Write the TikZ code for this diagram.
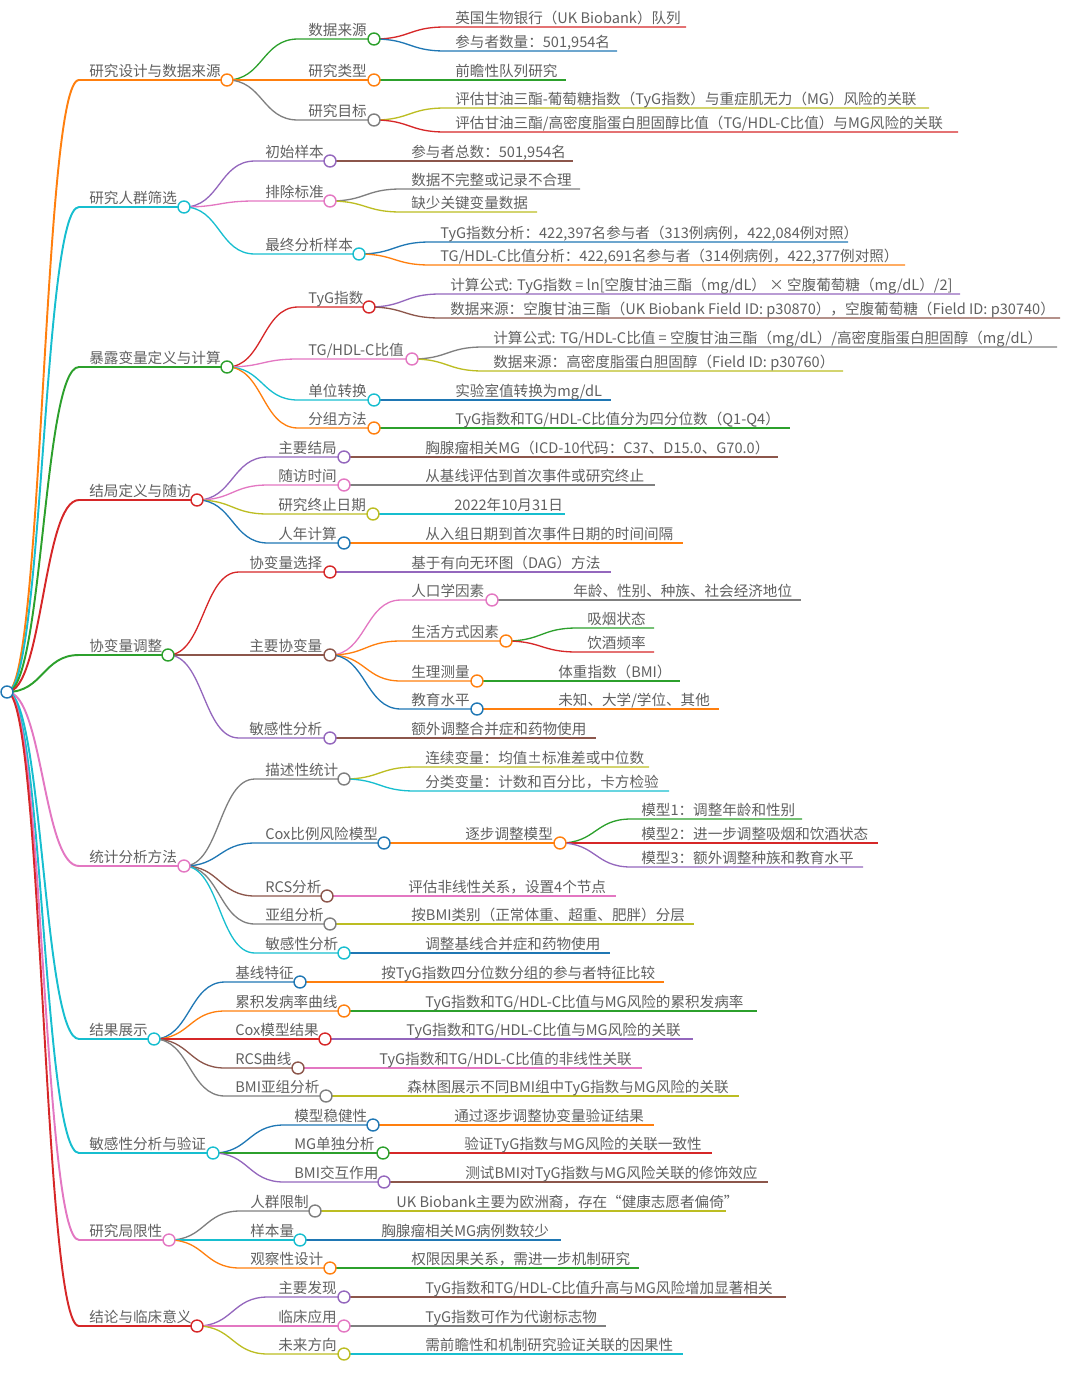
\documentclass[tikz,border=0pt]{standalone}
\usepackage{fontspec}
\setmainfont{Noto Sans CJK SC}
\usepackage{tikz}
\usetikzlibrary{calc}
\definecolor{mblue}{HTML}{1F77B4}
\definecolor{morange}{HTML}{FF7F0E}
\definecolor{mgreen}{HTML}{2CA02C}
\definecolor{mred}{HTML}{D62728}
\definecolor{mpurple}{HTML}{9467BD}
\definecolor{mbrown}{HTML}{8C564B}
\definecolor{mpink}{HTML}{E377C2}
\definecolor{mgray}{HTML}{7F7F7F}
\definecolor{molive}{HTML}{BCBD22}
\definecolor{mcyan}{HTML}{17BECF}
\definecolor{txt}{HTML}{606060}
\pgfdeclarelayer{bg}
\pgfsetlayers{bg,main}
\tikzset{
  lbl/.style={anchor=base west, inner sep=0pt, text=txt, font=\fontsize{8.3}{10}\selectfont},
  mmlink/.style={line width=0.75pt, to path={.. controls +(36,0) and +(-36,0) .. (\tikztotarget)}},
  lvlone/.style={line width=1.1pt},
  ring/.style={line width=0.8pt, fill=white}}
\newcommand{\mmnode}[7]{%
	\coordinate (#1-s) at (#4,#6);
	\coordinate (#1-e) at (#5,#6);
	\node[lbl] (#1) at ({#4+10},{#6-4}) {#7};
	\begin{pgfonlayer}{bg}
	\draw[mmlink, #3] (#2-e) to (#1-s) -- (#1-e);
	\end{pgfonlayer}}
\newcommand{\mmdot}[2]{\draw[#2, ring] (#1-e) circle [radius=0.12cm];}
\newcommand{\mmbranch}[7]{\mmnode{#1}{#2}{#3}{#4}{#5}{#6}{#7}\mmdot{#1}{#3}}

\begin{document}
\begin{tikzpicture}[x=0.02cm, y=-0.02cm]
\useasboundingbox (0,0) rectangle (1080,1376);
	\coordinate (root-e) at (7,692);

	\mmbranch{design}{root}{morange, lvlone}{79}{227}{80}{研究设计与数据来源}
	\mmbranch{source}{design}{mgreen}{298}{374}{39}{数据来源}
	\mmnode{ukb}{source}{mred}{445}{686}{27}{英国生物银行（UK Biobank）队列}
	\mmnode{count}{source}{mblue}{445}{617}{51}{参与者数量：501,954名}
	\mmbranch{type}{design}{morange}{298}{374}{80}{研究类型}
	\mmnode{cohort}{type}{mgreen}{445}{566}{80}{前瞻性队列研究}
	\mmbranch{aim}{design}{mgray}{298}{374}{120}{研究目标}
	\mmnode{aim1}{aim}{molive}{445}{929}{108}{评估甘油三酯-葡萄糖指数（TyG指数）与重症肌无力（MG）风险的关联}
	\mmnode{aim2}{aim}{mred}{445}{958}{132}{评估甘油三酯/高密度脂蛋白胆固醇比值（TG/HDL-C比值）与MG风险的关联}

	\mmbranch{pop}{root}{mcyan, lvlone}{79}{184}{207}{研究人群筛选}
	\mmbranch{init}{pop}{mpurple}{255}{330}{161}{初始样本}
	\mmnode{total}{init}{mbrown}{401}{573}{161}{参与者总数：501,954名}
	\mmbranch{excl}{pop}{mpink}{255}{330}{201}{排除标准}
	\mmnode{excl1}{excl}{mgray}{401}{580}{189}{数据不完整或记录不合理}
	\mmnode{excl2}{excl}{molive}{401}{537}{212}{缺少关键变量数据}
	\mmbranch{final}{pop}{mcyan}{255}{359}{254}{最终分析样本}
	\mmnode{final1}{final}{mblue}{430}{848}{242}{TyG指数分析：422,397名参与者（313例病例，422,084例对照）}
	\mmnode{final2}{final}{morange}{430}{905}{265}{TG/HDL-C比值分析：422,691名参与者（314例病例，422,377例对照）}

	\mmbranch{expo}{root}{mgreen, lvlone}{79}{227}{367}{暴露变量定义与计算}
	\mmbranch{tyg}{expo}{mred}{298}{369}{307}{TyG指数}
	\mmnode{tyg1}{tyg}{mpurple}{440}{960}{294}{计算公式: TyG指数 = ln[空腹甘油三酯（mg/dL） × 空腹葡萄糖（mg/dL）/2]}
	\mmnode{tyg2}{tyg}{mbrown}{440}{1060}{318}{数据来源：空腹甘油三酯（UK Biobank Field ID: p30870），空腹葡萄糖（Field ID: p30740）}
	\mmbranch{ratio}{expo}{mpink}{298}{412}{359}{TG/HDL-C比值}
	\mmnode{ratio1}{ratio}{mgray}{483}{1057}{347}{计算公式: TG/HDL-C比值 = 空腹甘油三酯（mg/dL）/高密度脂蛋白胆固醇（mg/dL）}
	\mmnode{ratio2}{ratio}{molive}{483}{843}{371}{数据来源：高密度脂蛋白胆固醇（Field ID: p30760）}
	\mmbranch{unit}{expo}{mcyan}{298}{374}{400}{单位转换}
	\mmnode{unit1}{unit}{mblue}{445}{611}{400}{实验室值转换为mg/dL}
	\mmbranch{group}{expo}{morange}{298}{374}{428}{分组方法}
	\mmnode{group1}{group}{mgreen}{445}{790}{428}{TyG指数和TG/HDL-C比值分为四分位数（Q1-Q4）}

	\mmbranch{outc}{root}{mred, lvlone}{79}{197}{500}{结局定义与随访}
	\mmbranch{prim}{outc}{mpurple}{268}{344}{457}{主要结局}
	\mmnode{prim1}{prim}{mbrown}{415}{778}{457}{胸腺瘤相关MG（ICD-10代码：C37、D15.0、G70.0）}
	\mmbranch{fu}{outc}{mpink}{268}{344}{485}{随访时间}
	\mmnode{fu1}{fu}{mgray}{415}{655}{485}{从基线评估到首次事件或研究终止}
	\mmbranch{stop}{outc}{molive}{268}{373}{514}{研究终止日期}
	\mmnode{stop1}{stop}{mcyan}{444}{565}{514}{2022年10月31日}
	\mmbranch{py}{outc}{mblue}{268}{344}{543}{人年计算}
	\mmnode{py1}{py}{morange}{415}{683}{543}{从入组日期到首次事件日期的时间间隔}

	\mmbranch{cov}{root}{mgreen, lvlone}{79}{168}{655}{协变量调整}
	\mmbranch{covsel}{cov}{mred}{239}{330}{572}{协变量选择}
	\mmnode{covsel1}{covsel}{mpurple}{401}{611}{572}{基于有向无环图（DAG）方法}
	\mmbranch{covmain}{cov}{mbrown}{239}{330}{655}{主要协变量}
	\mmbranch{demo}{covmain}{mpink}{401}{492}{600}{人口学因素}
	\mmnode{demo1}{demo}{mgray}{563}{801}{600}{年龄、性别、种族、社会经济地位}
	\mmbranch{life}{covmain}{morange}{401}{506}{641}{生活方式因素}
	\mmnode{smoke}{life}{mgreen}{577}{654}{628}{吸烟状态}
	\mmnode{drink}{life}{mred}{577}{654}{652}{饮酒频率}
	\mmbranch{phys}{covmain}{morange}{401}{477}{681}{生理测量}
	\mmnode{bmi}{phys}{mgreen}{548}{680}{681}{体重指数（BMI）}
	\mmbranch{edu}{covmain}{mblue}{401}{477}{709}{教育水平}
	\mmnode{edu1}{edu}{morange}{548}{719}{709}{未知、大学/学位、其他}
	\mmbranch{covsens}{cov}{mpurple}{239}{330}{738}{敏感性分析}
	\mmnode{covsens1}{covsens}{mbrown}{401}{596}{738}{额外调整合并症和药物使用}

	\mmbranch{stat}{root}{mpink, lvlone}{79}{184}{866}{统计分析方法}
	\mmbranch{desc}{stat}{mgray}{255}{344}{779}{描述性统计}
	\mmnode{cont}{desc}{molive}{415}{649}{767}{连续变量：均值±标准差或中位数}
	\mmnode{cat}{desc}{mcyan}{415}{669}{791}{分类变量：计数和百分比，卡方检验}
	\mmbranch{cox}{stat}{mblue}{255}{384}{843}{Cox比例风险模型}
	\mmbranch{stepm}{cox}{morange}{455}{560}{843}{逐步调整模型}
	\mmnode{m1}{stepm}{mgreen}{631}{802}{819}{模型1：调整年龄和性别}
	\mmnode{m2}{stepm}{mred}{631}{878}{843}{模型2：进一步调整吸烟和饮酒状态}
	\mmnode{m3}{stepm}{mpurple}{631}{863}{867}{模型3：额外调整种族和教育水平}
	\mmbranch{rcs}{stat}{mbrown}{255}{327}{896}{RCS分析}
	\mmnode{rcs1}{rcs}{mpink}{398}{616}{896}{评估非线性关系，设置4个节点}
	\mmbranch{sub}{stat}{mgray}{255}{330}{924}{亚组分析}
	\mmnode{sub1}{sub}{molive}{401}{694}{924}{按BMI类别（正常体重、超重、肥胖）分层}
	\mmbranch{sens}{stat}{mcyan}{255}{344}{953}{敏感性分析}
	\mmnode{sens1}{sens}{mblue}{415}{610}{953}{调整基线合并症和药物使用}

	\mmbranch{res}{root}{mcyan, lvlone}{79}{154}{1039}{结果展示}
	\mmbranch{base}{res}{mblue}{225}{300}{982}{基线特征}
	\mmnode{base1}{base}{morange}{371}{664}{982}{按TyG指数四分位数分组的参与者特征比较}
	\mmbranch{cum}{res}{morange}{225}{344}{1011}{累积发病率曲线}
	\mmnode{cum1}{cum}{mgreen}{415}{757}{1011}{TyG指数和TG/HDL-C比值与MG风险的累积发病率}
	\mmbranch{coxr}{res}{mred}{225}{325}{1039}{Cox模型结果}
	\mmnode{coxr1}{coxr}{mpurple}{396}{693}{1039}{TyG指数和TG/HDL-C比值与MG风险的关联}
	\mmbranch{rcsc}{res}{mbrown}{225}{298}{1068}{RCS曲线}
	\mmnode{rcsc1}{rcsc}{mpink}{369}{642}{1068}{TyG指数和TG/HDL-C比值的非线性关联}
	\mmbranch{bmisub}{res}{mgray}{225}{326}{1096}{BMI亚组分析}
	\mmnode{bmisub1}{bmisub}{molive}{397}{739}{1096}{森林图展示不同BMI组中TyG指数与MG风险的关联}

	\mmbranch{val}{root}{mcyan, lvlone}{79}{213}{1153}{敏感性分析与验证}
	\mmbranch{robust}{val}{mblue}{284}{373}{1125}{模型稳健性}
	\mmnode{robust1}{robust}{morange}{444}{654}{1125}{通过逐步调整协变量验证结果}
	\mmbranch{mgonly}{val}{mgreen}{284}{383}{1153}{MG单独分析}
	\mmnode{mgonly1}{mgonly}{mred}{454}{712}{1153}{验证TyG指数与MG风险的关联一致性}
	\mmbranch{inter}{val}{mpurple}{284}{384}{1182}{BMI交互作用}
	\mmnode{inter1}{inter}{mbrown}{455}{768}{1182}{测试BMI对TyG指数与MG风险关联的修饰效应}

	\mmbranch{lim}{root}{mpink, lvlone}{79}{169}{1240}{研究局限性}
	\mmbranch{popl}{lim}{mgray}{240}{315}{1211}{人群限制}
	\mmnode{popl1}{popl}{molive}{386}{726}{1211}{UK Biobank主要为欧洲裔，存在“健康志愿者偏倚”}
	\mmbranch{size}{lim}{mcyan}{240}{300}{1240}{样本量}
	\mmnode{size1}{size}{mblue}{371}{561}{1240}{胸腺瘤相关MG病例数较少}
	\mmbranch{obs}{lim}{morange}{240}{330}{1268}{观察性设计}
	\mmnode{obs1}{obs}{mgreen}{401}{639}{1268}{权限因果关系，需进一步机制研究}

	\mmbranch{concl}{root}{mred, lvlone}{79}{197}{1326}{结论与临床意义}
	\mmbranch{find}{concl}{mpurple}{268}{344}{1297}{主要发现}
	\mmnode{find1}{find}{mbrown}{415}{786}{1297}{TyG指数和TG/HDL-C比值升高与MG风险增加显著相关}
	\mmbranch{clin}{concl}{mpink}{268}{344}{1326}{临床应用}
	\mmnode{clin1}{clin}{mgray}{415}{606}{1326}{TyG指数可作为代谢标志物}
	\mmbranch{fut}{concl}{molive}{268}{344}{1354}{未来方向}
	\mmnode{fut1}{fut}{mcyan}{415}{683}{1354}{需前瞻性和机制研究验证关联的因果性}

	\mmdot{root}{mblue}
\end{tikzpicture}
\end{document}
